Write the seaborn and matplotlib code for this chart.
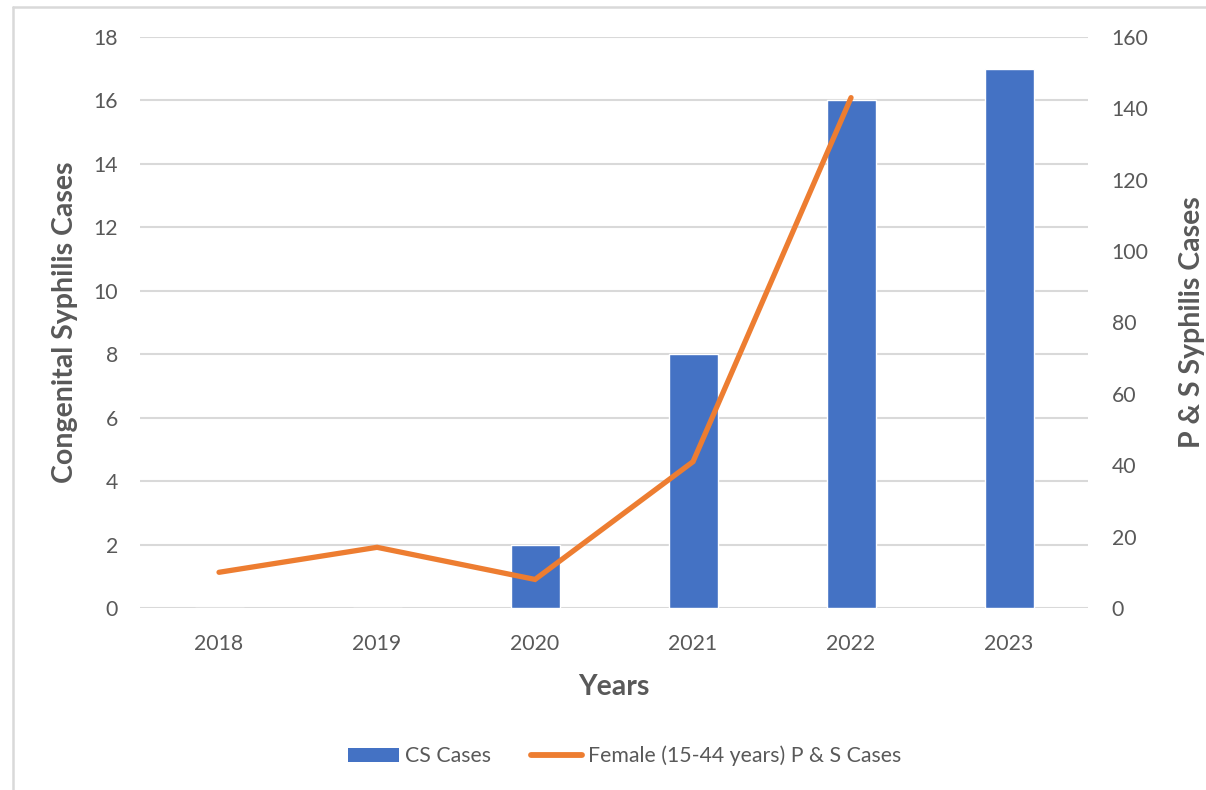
import numpy as np
import pandas as pd
import matplotlib
matplotlib.use("Agg")
import matplotlib.pyplot as plt
from matplotlib.lines import Line2D
from matplotlib.patches import Patch
import seaborn as sns

years = ["2018", "2019", "2020", "2021", "2022", "2023"]
cs_cases = [0, 0, 2, 8, 16, 17]
ps_years = ["2018", "2019", "2020", "2021", "2022"]
ps_female_cases = [10, 17, 8, 41, 143]

bar_label = "CS Cases"
line_label = "Female (15-44 years) P & S Cases"

BLUE = "#4472C4"
ORANGE = "#ED7D31"
GRID = "#D9D9D9"
TEXT = "#595959"
TICK_SIZE = 15.3
LABEL_SIZE = 20.5

sns.set_theme(style="white")
plt.rcParams["font.family"] = ["Lato", "DejaVu Sans"]

fig = plt.figure(figsize=(12.06, 7.90), dpi=100)
ax = fig.add_axes([0.1161, 0.2304, 0.7861, 0.7228])

bars_df = pd.DataFrame({"year": years, "cases": cs_cases})
sns.barplot(data=bars_df, x="year", y="cases", order=years, color=BLUE,
            saturation=1, width=0.31, ax=ax, zorder=2)

ax.set_ylim(0, 18)
ax.set_yticks(np.arange(0, 19, 2))
ax.set_xlim(-0.5, len(years) - 0.5)
ax.grid(axis="y", color=GRID, linewidth=1.5, zorder=0)
ax.set_axisbelow(True)
for s in ax.spines.values():
    s.set_visible(False)
ax.tick_params(axis="both", length=0, labelsize=TICK_SIZE, colors=TEXT)
ax.tick_params(axis="y", pad=16)
ax.tick_params(axis="x", pad=19)
ax.set_xlabel("Years", fontsize=LABEL_SIZE, fontweight="bold", color=TEXT,
              labelpad=14)
ax.set_ylabel("Congenital Syphilis Cases", fontsize=LABEL_SIZE,
              fontweight="bold", color=TEXT, labelpad=11)

ax2 = ax.twinx()
line_df = pd.DataFrame({"pos": [years.index(y) for y in ps_years],
                        "cases": ps_female_cases})
sns.lineplot(data=line_df, x="pos", y="cases", color=ORANGE, linewidth=3.8,
             ax=ax2, solid_capstyle="round", solid_joinstyle="miter")
ax2.set_ylim(0, 160)
ax2.set_yticks(np.arange(0, 161, 20))
ax2.set_xlim(-0.5, len(years) - 0.5)
for s in ax2.spines.values():
    s.set_visible(False)
ax2.grid(False)
ax2.tick_params(axis="y", length=0, labelsize=TICK_SIZE, colors=TEXT, pad=17)
ax2.set_ylabel("P & S Syphilis Cases", fontsize=LABEL_SIZE, fontweight="bold",
               color=TEXT, labelpad=22, rotation=90)

handles = [Patch(facecolor=BLUE, edgecolor="none"),
           Line2D([0], [0], color=ORANGE, linewidth=4.2, solid_capstyle="round")]
fig.legend(handles, [bar_label, line_label], loc="center",
           bbox_to_anchor=(0.518, 0.043), ncol=2, frameon=False,
           fontsize=TICK_SIZE, labelcolor=TEXT, handlelength=2.4,
           handleheight=0.6, handletextpad=0.28, columnspacing=1.9)

# chart frame lines (left and top edges)
fig.add_artist(Line2D([12.5 / 1206, 12.5 / 1206], [0, 1 - 6.5 / 790],
                      color="#D9D9D9", linewidth=1.8, transform=fig.transFigure))
fig.add_artist(Line2D([12.5 / 1206, 1], [1 - 6.5 / 790, 1 - 6.5 / 790],
                      color="#D9D9D9", linewidth=1.8, transform=fig.transFigure))

fig.savefig("out.png", dpi=100, facecolor="white")
